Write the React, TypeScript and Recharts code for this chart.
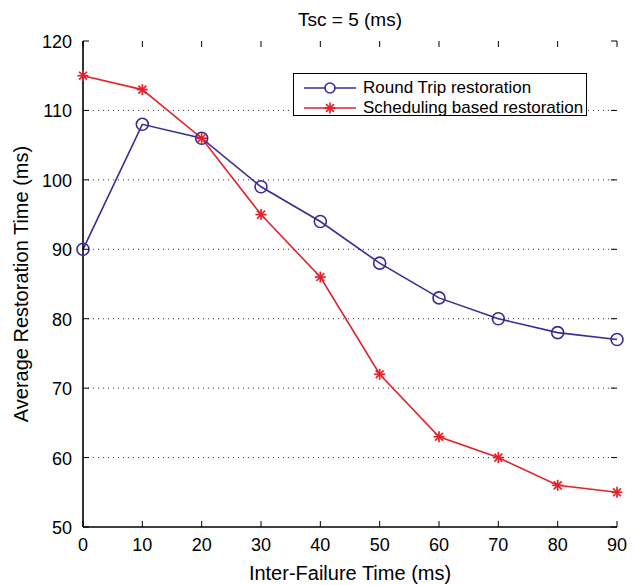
import React from 'react';
import {
  LineChart,
  Line,
  XAxis,
  YAxis,
  CartesianGrid,
} from 'recharts';

// x values (inter-failure time, ms)
const interFailure = [0, 10, 20, 30, 40, 50, 60, 70, 80, 90];
// series values
const roundTrip = [90, 108, 106, 99, 94, 88, 83, 80, 78, 77];
const scheduling = [115, 113, 106, 95, 86, 72, 63, 60, 56, 55];
const xTicks = [0, 10, 20, 30, 40, 50, 60, 70, 80, 90];
const yTicks = [50, 60, 70, 80, 90, 100, 110, 120];

const BLUE = '#3d2b92';
const RED = '#e4222a';
const FONT = '"Liberation Sans", Arial, sans-serif';

// plot box edges in px (used for the inward tick marks)
const PL = 83;
const PR = 617;
const PT = 41;
const PB = 527;

const data = interFailure.map((t, i) => ({
  t,
  roundTrip: roundTrip[i],
  scheduling: scheduling[i],
}));

const CircleDot = (props: any) => {
  const { cx, cy, key } = props;
  return <circle key={key} cx={cx} cy={cy} r={6} fill="none" stroke={BLUE} strokeWidth={1.6} />;
};

const StarDot = (props: any) => {
  const { cx, cy, key } = props;
  const r = 5.5;
  const d = r * 0.72;
  return (
    <g key={key} stroke={RED} strokeWidth={1.7}>
      <line x1={cx - r} y1={cy} x2={cx + r} y2={cy} />
      <line x1={cx} y1={cy - r} x2={cx} y2={cy + r} />
      <line x1={cx - d} y1={cy - d} x2={cx + d} y2={cy + d} />
      <line x1={cx - d} y1={cy + d} x2={cx + d} y2={cy - d} />
    </g>
  );
};

const XTick = (props: any) => {
  const { x, payload } = props;
  return (
    <g>
      <line x1={x} x2={x} y1={PB} y2={PB - 6} stroke="#000" />
      <line x1={x} x2={x} y1={PT} y2={PT + 6} stroke="#000" />
      <text x={x} y={PB + 24} textAnchor="middle" fontSize={18} fontFamily={FONT} fill="#000">
        {payload.value}
      </text>
    </g>
  );
};

const YTick = (props: any) => {
  const { y, payload } = props;
  return (
    <g>
      <line x1={PL} x2={PL + 6} y1={y} y2={y} stroke="#000" />
      <line x1={PR - 6} x2={PR} y1={y} y2={y} stroke="#000" />
      <text x={PL - 11} y={y + 7} textAnchor="end" fontSize={18} fontFamily={FONT} fill="#000">
        {payload.value}
      </text>
    </g>
  );
};

const LegendBox = () => (
  <div
    style={{
      position: 'absolute',
      left: 293,
      top: 73,
      width: 294,
      height: 43,
      border: '1px solid #000',
      background: '#fff',
      fontFamily: FONT,
      fontSize: 17,
      boxSizing: 'border-box',
    }}
  >
    {[
      { name: 'Round Trip restoration', dot: 'o' },
      { name: 'Scheduling based restoration', dot: '*' },
    ].map((item, i) => (
      <div
        key={item.name}
        style={{ position: 'absolute', left: 9, top: i === 0 ? 4 : 24, height: 20, display: 'flex', alignItems: 'center' }}
      >
        <svg width={60} height={20}>
          {item.dot === 'o' ? (
            <g>
              <line x1={1} x2={53} y1={10} y2={10} stroke={BLUE} strokeWidth={1.6} />
              <circle cx={27} cy={10} r={5} fill="#fff" stroke={BLUE} strokeWidth={1.6} />
            </g>
          ) : (
            <g>
              <line x1={1} x2={53} y1={10} y2={10} stroke={RED} strokeWidth={1.6} />
              <StarDot cx={27} cy={10} />
            </g>
          )}
        </svg>
        <span style={{ lineHeight: '20px' }}>{item.name}</span>
      </div>
    ))}
  </div>
);

export default function App() {
  return (
    <div style={{ position: 'absolute', left: 0, top: 0, width: 634, height: 585, background: '#fff' }}>
      <div
        style={{
          position: 'absolute',
          left: PL,
          width: PR - PL,
          top: 8,
          textAlign: 'center',
          fontFamily: FONT,
          fontSize: 19,
          lineHeight: '24px',
        }}
      >
        Tsc = 5 (ms)
      </div>
      <LineChart
        width={634}
        height={585}
        data={data}
        margin={{ top: PT, right: 634 - PR, bottom: 0, left: 0 }}
      >
        <CartesianGrid
          vertical={false}
          stroke="#333"
          strokeDasharray="1 4"
          horizontalValues={[60, 70, 80, 90, 100, 110]}
        />
        <XAxis
          dataKey="t"
          type="number"
          domain={[0, 90]}
          ticks={xTicks}
          height={585 - PB}
          stroke="#000"
          tickLine={false}
          axisLine={{ stroke: '#000', strokeWidth: 1.6 }}
          tick={<XTick />}
          label={{
            value: 'Inter-Failure Time (ms)',
            position: 'insideBottom',
            offset: 5,
            fontSize: 20,
            fontFamily: FONT,
            fill: '#000',
          }}
        />
        <XAxis
          xAxisId="top"
          orientation="top"
          dataKey="t"
          type="number"
          domain={[0, 90]}
          height={0}
          stroke="#000"
          tick={false}
          tickLine={false}
          axisLine={{ stroke: '#000', strokeWidth: 1.6 }}
        />
        <YAxis
          type="number"
          domain={[50, 120]}
          ticks={yTicks}
          width={PL}
          stroke="#000"
          tickLine={false}
          axisLine={{ stroke: '#000', strokeWidth: 1.6 }}
          tick={<YTick />}
          label={{
            value: 'Average Restoration Time (ms)',
            angle: -90,
            position: 'insideLeft',
            offset: 21,
            fontSize: 20,
            fontFamily: FONT,
            fill: '#000',
            style: { textAnchor: 'middle' },
          }}
        />
        <YAxis
          yAxisId="right"
          orientation="right"
          type="number"
          domain={[50, 120]}
          width={0}
          stroke="#000"
          tick={false}
          tickLine={false}
          axisLine={{ stroke: '#000', strokeWidth: 1.6 }}
        />
        <Line
          dataKey="roundTrip"
          stroke={BLUE}
          strokeWidth={1.6}
          dot={<CircleDot />}
          activeDot={false}
          isAnimationActive={false}
        />
        <Line
          dataKey="scheduling"
          stroke={RED}
          strokeWidth={1.6}
          dot={<StarDot />}
          activeDot={false}
          isAnimationActive={false}
        />
      </LineChart>
      <LegendBox />
    </div>
  );
}
